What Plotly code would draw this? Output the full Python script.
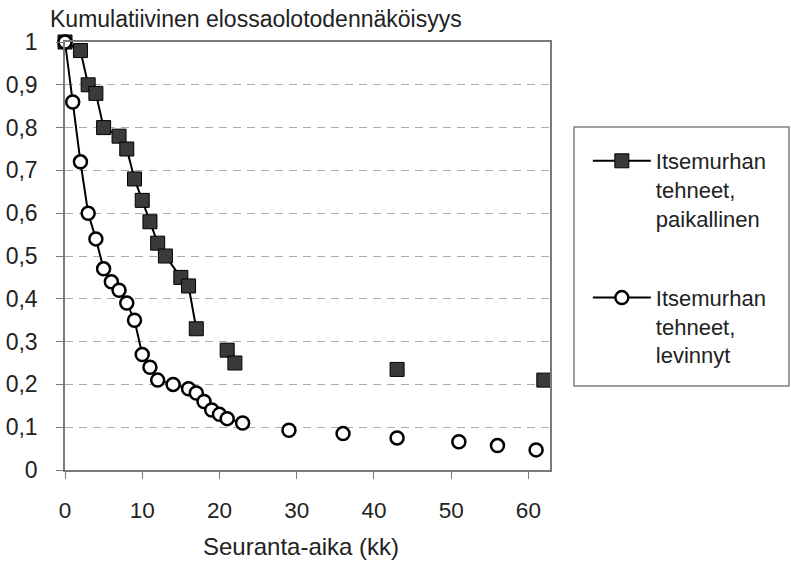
import plotly.graph_objects as go

# ---- data ----
months_local = [0, 2, 3, 4, 5, 7, 8, 9, 10, 11, 12, 13, 15, 16, 17, None, 21, 22, None, 43, None, 62]
surv_local = [1.0, 0.98, 0.90, 0.88, 0.80, 0.78, 0.75, 0.68, 0.63, 0.58, 0.53, 0.50, 0.45, 0.43, 0.33,
              None, 0.28, 0.25, None, 0.235, None, 0.21]

months_spread = [0, 1, 2, 3, 4, 5, 6, 7, 8, 9, 10, 11, 12, 14, 16, 17, 18, 19, 20, 21, 23,
                 None, 29, None, 36, None, 43, None, 51, None, 56, None, 61]
surv_spread = [1.0, 0.86, 0.72, 0.60, 0.54, 0.47, 0.44, 0.42, 0.39, 0.35, 0.27, 0.24, 0.21, 0.20,
               0.19, 0.18, 0.16, 0.14, 0.13, 0.12, 0.11,
               None, 0.093, None, 0.085, None, 0.075, None, 0.066, None, 0.057, None, 0.047]

series_names = ["Itsemurhan<br>tehneet,<br>paikallinen", "Itsemurhan<br>tehneet,<br>levinnyt"]

x_ticks = [0, 10, 20, 30, 40, 50, 60]
y_ticks = [0, 0.1, 0.2, 0.3, 0.4, 0.5, 0.6, 0.7, 0.8, 0.9, 1.0]
y_tick_labels = ["0", "0,1", "0,2", "0,3", "0,4", "0,5", "0,6", "0,7", "0,8", "0,9", "1"]

y_title = "Kumulatiivinen elossaolotodennäköisyys"
x_title = "Seuranta-aika (kk)"

FONT = "Liberation Sans, Arial, sans-serif"

fig = go.Figure()
fig.add_trace(go.Scatter(
    x=months_local, y=surv_local, name=series_names[0], legendgroup="a",
    mode="lines+markers", connectgaps=False, cliponaxis=False,
    line=dict(color="black", width=2),
    marker=dict(symbol="square", size=14, color="#3a3a3a", line=dict(color="black", width=1)),
))
fig.add_trace(go.Scatter(
    x=months_spread, y=surv_spread, name=series_names[1], legendgroup="b",
    mode="lines+markers", connectgaps=False, cliponaxis=False,
    line=dict(color="black", width=2),
    marker=dict(symbol="circle", size=13, color="white", line=dict(color="black", width=2.5)),
))

fig.update_layout(
    width=791, height=564,
    margin=dict(l=65, r=241, t=42, b=94),
    paper_bgcolor="white", plot_bgcolor="white",
    font=dict(family=FONT, size=22, color="#222"),
    showlegend=True,
    legend=dict(
        x=1.078, y=0.771, xanchor="left", yanchor="top",
        bgcolor="rgba(0,0,0,0)", borderwidth=0,
        font=dict(family=FONT, size=22, color="#222"),
        valign="top", traceorder="grouped", tracegroupgap=48,
        itemwidth=58,
    ),
    xaxis=dict(
        range=[0, 62.8], tickvals=x_ticks, ticktext=[str(v) for v in x_ticks],
        showgrid=False, zeroline=False, automargin=False,
        showline=True, linecolor="#7a7a7a", linewidth=1.5, mirror=True,
        ticks="outside", ticklen=7, tickcolor="#7a7a7a",
        ticklabelstandoff=12,
        tickfont=dict(size=22.5, color="#222"),
    ),
    yaxis=dict(
        range=[0, 1], tickvals=y_ticks, ticktext=y_tick_labels,
        showgrid=True, gridcolor="#ababab", griddash="8px,6px", gridwidth=1,
        zeroline=False, automargin=False,
        showline=True, linecolor="#7a7a7a", linewidth=1.5, mirror=True,
        ticks="outside", ticklen=7, tickcolor="#7a7a7a",
        ticklabelstandoff=14,
        tickfont=dict(size=23, color="#222"),
    ),
    shapes=[dict(
        type="rect", xref="paper", yref="paper",
        x0=(574 - 65) / 485, x1=(789 - 65) / 485,
        y0=(470 - 386) / 428, y1=(470 - 127) / 428,
        line=dict(color="#808080", width=1.5), fillcolor="rgba(0,0,0,0)",
    )],
    annotations=[
        dict(text=y_title, xref="paper", yref="paper",
             x=(48 - 65) / 485, y=(470 - 19) / 428, xanchor="left", yanchor="middle",
             showarrow=False, font=dict(family=FONT, size=23, color="#222")),
        dict(text=x_title, xref="paper", yref="paper",
             x=(301 - 65) / 485, y=(470 - 546) / 428, xanchor="center", yanchor="middle",
             showarrow=False, font=dict(family=FONT, size=24, color="#222")),
    ],
)

fig.write_html("out.html")
